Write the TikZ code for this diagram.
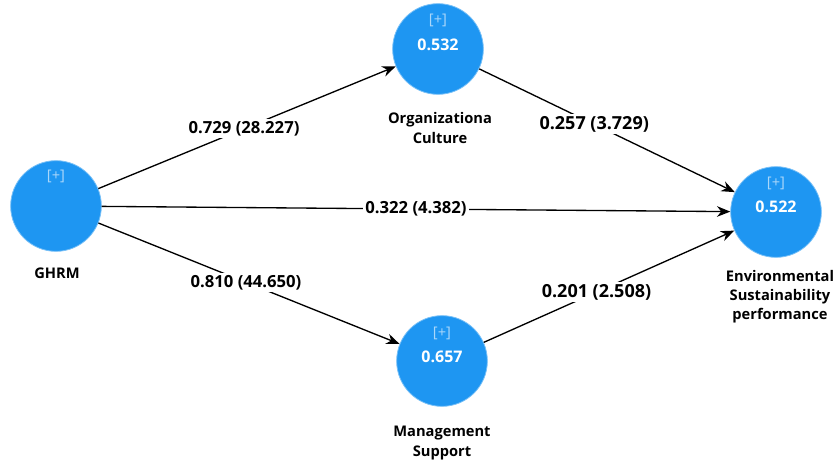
\documentclass[tikz,border=0pt]{standalone}
\usepackage{fontspec}
\setmainfont{Open Sans}
\usetikzlibrary{arrows.meta}
\definecolor{circblue}{RGB}{30,150,242}
\definecolor{plusblue}{RGB}{170,215,250}
\tikzset{
  lv/.style={circle, fill=circblue, draw=circblue!60!white, line width=0.6pt, minimum size=68pt, inner sep=0pt},
  plustxt/.style={text=plusblue, font=\fontsize{11}{12}\selectfont},
  valtxt/.style={text=white, font=\bfseries\fontsize{12}{13}\selectfont},
  lvname/.style={font=\bfseries\fontsize{11}{14.3}\selectfont, align=center},
  pathline/.style={draw=black, line width=1pt, -{Stealth[length=10pt,width=8pt]}},
  coef/.style={fill=white, inner sep=1.5pt, font=\bfseries\fontsize{12.5}{14}\selectfont},
  coefb/.style={fill=white, inner sep=1.5pt, font=\bfseries\fontsize{13.5}{15}\selectfont}
}
\begin{document}
\begin{tikzpicture}[x=0.75pt, y=-0.75pt]
\useasboundingbox (0,0) rectangle (835,466);
\node[lv] (ghrm) at (56,206) {};
\node[lv] (org) at (438,49) {};
\node[lv] (env) at (776,212) {};
\node[lv] (mgmt) at (442,361) {};

\node[plustxt] (pg) at (56,176) {[+]};
\node[plustxt] (po) at (438,20) {[+]};
\node[valtxt] (vo) at (438,45) {0.532};
\node[plustxt] (pe) at (776,183) {[+]};
\node[valtxt] (ve) at (776,207) {0.522};
\node[plustxt] (pm) at (442,333) {[+]};
\node[valtxt] (vm) at (442,357) {0.657};

\node[lvname] (lg) at (57,273) {GHRM};
\node[lvname] (lo) at (440,128) {Organizationa\\Culture};
\node[lvname] (le) at (780,297) {Environmental\\Sustainability\\performance};
\node[lvname] (lm) at (442,443) {Management\\Support};

\draw[pathline] (ghrm) -- (org) node[coef, pos=0.49] (c1) {0.729 (28.227)};
\draw[pathline] (ghrm) -- (env) node[coef, pos=0.50] (c2) {0.322 (4.382)};
\draw[pathline] (ghrm) -- (mgmt) node[coef, pos=0.49] (c3) {0.810 (44.650)};
\draw[pathline] (org) -- (env) node[coefb, pos=0.45] (c4) {0.257 (3.729)};
\draw[pathline] (mgmt) -- (env) node[coefb, pos=0.45] (c5) {0.201 (2.508)};
\end{tikzpicture}
\end{document}
